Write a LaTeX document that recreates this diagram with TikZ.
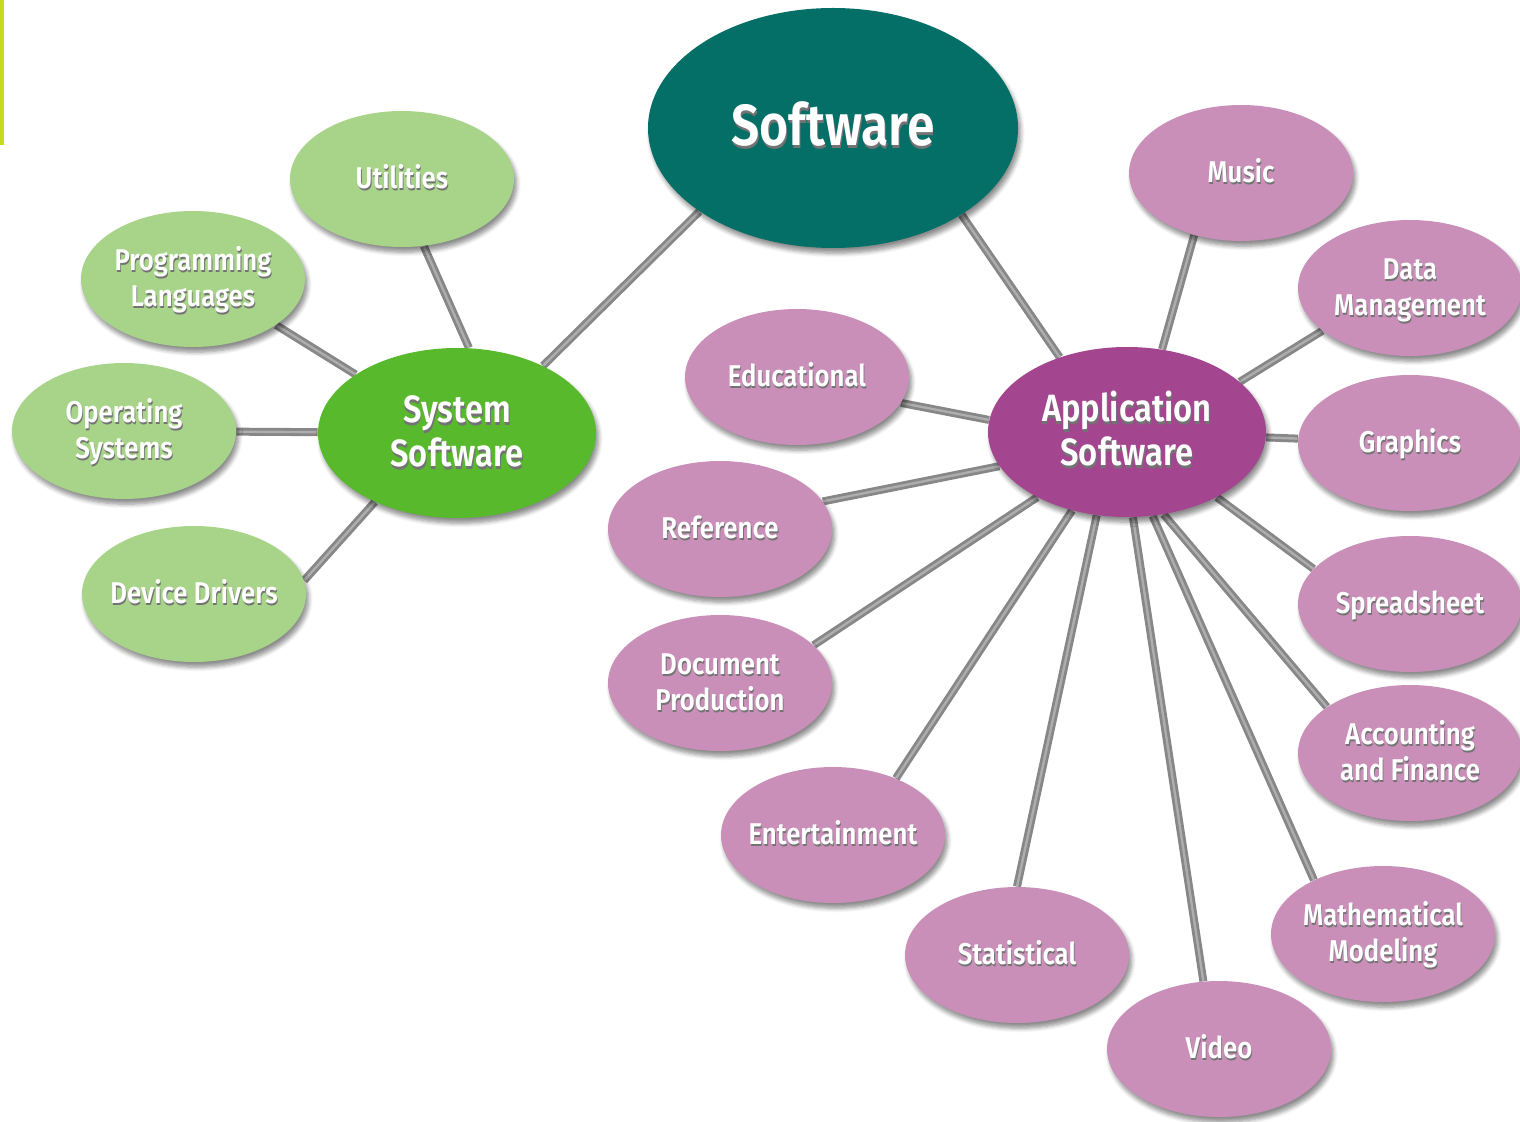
\documentclass[tikz,border=0pt]{standalone}
\usepackage{fontspec}
\setmainfont{Fira Sans}[FakeStretch=0.86, BoldFont={Fira Sans SemiBold}]
\usetikzlibrary{shapes.geometric,shadows.blur}
\pgfdeclarelayer{bg}
\pgfsetlayers{bg,main}
\definecolor{cteal}{HTML}{046F66}
\definecolor{cgreen}{HTML}{58B92C}
\definecolor{clgreen}{HTML}{A7D489}
\definecolor{cpurple}{HTML}{A4458F}
\definecolor{cpink}{HTML}{C98FB9}
\definecolor{cbar}{HTML}{C8DC1E}
\newcommand\lbl[1]{\raisebox{-0.11em}[\height][\depth]{\makebox[0pt]{\makebox[0pt]{\hspace{0.8pt}\raisebox{-1.3pt}{\color{black!55}\begin{tabular}{@{}c@{}}#1\end{tabular}}}\makebox[0pt]{\begin{tabular}{@{}c@{}}#1\end{tabular}}}}}
\tikzset{
  bub/.style={ellipse, inner sep=0pt, text=white,
    blur shadow={shadow xshift=1.3pt, shadow yshift=-2.6pt, shadow blur steps=6, shadow opacity=45}},
  leafg/.style={bub, fill=clgreen, minimum width=112pt, minimum height=68pt, font=\bfseries\fontsize{15}{18}\selectfont},
  leafp/.style={bub, fill=cpink, minimum width=112pt, minimum height=68pt, font=\bfseries\fontsize{15}{18}\selectfont},
  hub/.style={bub, minimum width=139pt, minimum height=85pt, font=\bfseries\fontsize{19}{22}\selectfont},
  conn/.style={draw=black!47, line width=1.4pt, double=black!32, double distance=1.2pt},
}
\begin{document}
\begin{tikzpicture}[x=0.5pt,y=-0.5pt]
\useasboundingbox (0,0) rectangle (1520,1122);
\fill[cbar] (0,0) rectangle (4,145);
\node[bub, fill=cteal, minimum width=185pt, minimum height=120pt, font=\bfseries\fontsize{29}{32}\selectfont] (soft) at (833,128) {\lbl{Software}};
\node[hub, fill=cgreen] (sys) at (457,433) {\lbl{System\\Software}};
\node[hub, fill=cpurple] (app) at (1127,432) {\lbl{Application\\Software}};
\node[leafg] (util) at (402,179) {\lbl{Utilities}};
\node[leafg] (prog) at (193,279) {\lbl{Programming\\Languages}};
\node[leafg] (opsys) at (124,431) {\lbl{Operating\\Systems}};
\node[leafg] (dev) at (194,594) {\lbl{Device Drivers}};
\node[leafp] (edu) at (797,377) {\lbl{Educational}};
\node[leafp] (ref) at (720,529) {\lbl{Reference}};
\node[leafp] (doc) at (720,683) {\lbl{Document\\Production}};
\node[leafp] (ent) at (833,835) {\lbl{Entertainment}};
\node[leafp] (stat) at (1017,955) {\lbl{Statistical}};
\node[leafp] (video) at (1219,1049) {\lbl{Video}};
\node[leafp] (math) at (1383,934) {\lbl{Mathematical\\Modeling}};
\node[leafp] (acct) at (1410,753) {\lbl{Accounting\\and Finance}};
\node[leafp] (spread) at (1410,604) {\lbl{Spreadsheet}};
\node[leafp] (graph) at (1410,443) {\lbl{Graphics}};
\node[leafp] (data) at (1410,288) {\lbl{Data\\Management}};
\node[leafp] (music) at (1241,173) {\lbl{Music}};
\begin{pgfonlayer}{bg}
\foreach \a/\b in {soft.212/sys.38, soft.-34/app.132,
  sys.82/util.-72, sys.150/prog.-29, sys/opsys, sys.220/dev.7,
  app.175/edu.-14, app.195/ref.15, app.216/doc.22, app.235/ent.42,
  app.250/stat.90, app.-86/video.103, app.-73/math.142, app.-66/acct.151,
  app.-36/spread.160, app/graph, app.24/data.206, app.67/music.233}
  \draw[conn] (\a) -- (\b);
\end{pgfonlayer}
\end{tikzpicture}
\end{document}
